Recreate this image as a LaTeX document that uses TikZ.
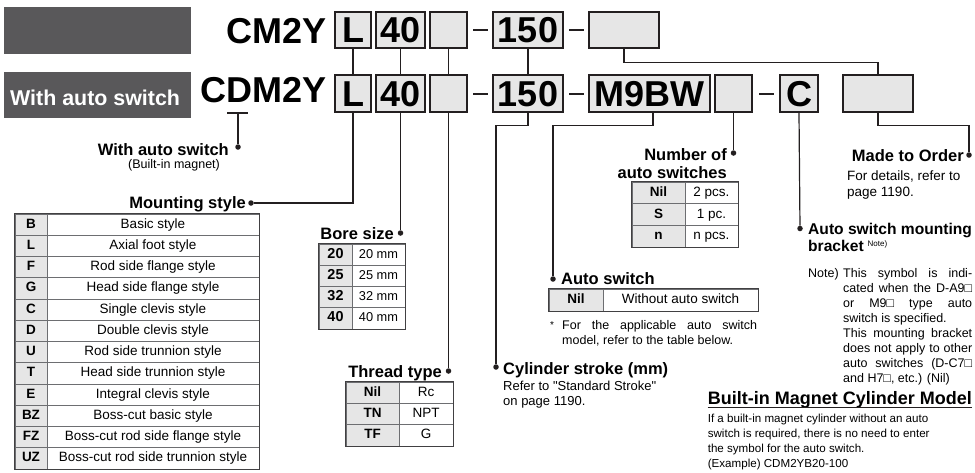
\documentclass[tikz,border=0pt]{standalone}
\usepackage{fontspec}
\setmainfont{Liberation Sans}
\definecolor{linecol}{HTML}{231F20}
\definecolor{bannergray}{HTML}{59585A}
\definecolor{boxgray}{HTML}{E6E6E6}
\definecolor{tabline}{HTML}{6D6E71}
\definecolor{tabouter}{HTML}{414042}
\newcommand\jl[2]{\makebox[#1][s]{#2}}
\begin{document}
\begin{tikzpicture}[x=1pt,y=-1pt,
  conn/.style={draw=linecol, line width=1.2pt},
  dashbar/.style={draw=linecol, line width=2.8pt},
  dotc/.style={circle, fill=linecol, inner sep=0pt, minimum size=5.5pt},
  banner/.style={fill=bannergray, draw=none},
  codebox/.style={draw=linecol, fill=boxgray, line width=1.2pt, inner sep=0pt,
     text height=25.8pt, text depth=0pt, font=\fontsize{36}{36}\selectfont\bfseries},
  bigcode/.style={inner sep=0pt, font=\fontsize{36}{36}\selectfont\bfseries},
  lbl/.style={inner sep=0pt, font=\fontsize{16.5}{18}\selectfont\bfseries},
  txt/.style={inner sep=0pt, font=\fontsize{13}{15.5}\selectfont},
  small/.style={inner sep=0pt, font=\fontsize{12.5}{15}\selectfont},
  kcell/.style={draw=tabline, fill=boxgray, line width=0.6pt, inner sep=0pt,
     text height=10pt, text depth=3pt, font=\fontsize{13.5}{14}\selectfont\bfseries},
  vcell/.style={draw=tabline, fill=white, line width=0.6pt, inner sep=0pt,
     text height=10pt, text depth=3pt, font=\fontsize{13.5}{14}\selectfont},
  outer/.style={draw=tabouter, line width=1pt}
]
\useasboundingbox (0,0) rectangle (975,472);

% banners
\fill[banner] (4,7) rectangle (191,54);
\fill[banner] (4,72) rectangle (191,118);
\node[inner sep=0pt, anchor=base west, text=white, font=\fontsize{21.4}{22}\selectfont\bfseries] (bantxt) at (10,105) {With auto switch};

% model codes
\node[bigcode, anchor=base east] (cm) at (327,43) {CM2Y};
\node[bigcode, anchor=base east] (cdm) at (327,102) {CDM2Y};

% top row boxes
\node[codebox, minimum width=36, minimum height=36] (tL) at (353,30) {L};
\node[codebox, minimum width=49, minimum height=36] (t40) at (400.5,30) {40};
\node[codebox, minimum width=37, minimum height=36] (tE) at (448.5,30) {};
\node[codebox, minimum width=70, minimum height=36] (t150) at (528,30) {150};
\node[codebox, minimum width=70, minimum height=36] (tS) at (624,30) {};
\draw[dashbar] (473,30) -- (488,30);
\draw[dashbar] (569,30) -- (584,30);

% bottom row boxes
\node[codebox, minimum width=36, minimum height=37] (bL) at (353,93.5) {L};
\node[codebox, minimum width=49, minimum height=37] (b40) at (400.5,93.5) {40};
\node[codebox, minimum width=37, minimum height=37] (bE) at (448.5,93.5) {};
\node[codebox, minimum width=70, minimum height=37] (b150) at (528,93.5) {150};
\node[codebox, minimum width=121, minimum height=37] (bM) at (649.5,93.5) {M9BW};
\node[codebox, minimum width=37, minimum height=37] (bN) at (733.5,93.5) {};
\node[codebox, minimum width=38, minimum height=37] (bC) at (799,93.5) {C};
\node[codebox, minimum width=70, minimum height=37] (bO) at (878,93.5) {};
\draw[dashbar] (473,94) -- (488,94);
\draw[dashbar] (569,94) -- (584,94);
\draw[dashbar] (759,94) -- (774,94);

% links between rows
\draw[conn] (tL.south) -- (bL.north);
\draw[conn] (t40.south) -- (b40.north);
\draw[conn] (tE.south) -- (bE.north);
\draw[conn] (t150.south) -- (b150.north);
\draw[conn] (tS.south) -- ++(0,14) -| (bO.north);

% With auto switch (D)
\coordinate (dUl) at (227,113);
\coordinate (dUr) at (248,113);
\coordinate (dU) at (238,113);
\draw[conn] (dUl) -- (dUr);
\node[dotc] (dWas) at (238,147) {};
\draw[conn] (dU) -- (dWas);
\node[lbl, anchor=base east] (was) at (229,155) {With auto switch};
\node[small, anchor=base west] (bim) at (128,168) {(Built-in magnet)};

% Mounting style
\node[dotc] (dMount) at (251,203) {};
\draw[conn] (bL.south) |- (dMount);
\node[lbl, anchor=base east] (mst) at (246,208) {Mounting style};
\foreach \k/\v [count=\i] in {B/Basic style, L/Axial foot style, F/Rod side flange style,
  G/Head side flange style, C/Single clevis style, D/Double clevis style,
  U/Rod side trunnion style, T/Head side trunnion style, E/Integral clevis style,
  BZ/Boss-cut basic style, FZ/Boss-cut rod side flange style, UZ/Boss-cut rod side trunnion style}{
  \node[kcell, minimum width=32, minimum height=21.25] (mk\i) at (31,203.375+21.25*\i) {\k};
  \node[vcell, minimum width=212, minimum height=21.25] (mv\i) at (153,203.375+21.25*\i) {\v};
}
\draw[outer] (mk1.north west) rectangle (mv12.south east);

% Bore size
\node[dotc] (dBore) at (400.5,233) {};
\draw[conn] (b40.south) -- (dBore);
\node[lbl, anchor=base east] (bst) at (394,239) {Bore size};
\foreach \k [count=\i] in {20,25,32,40}{
  \node[kcell, minimum width=33, minimum height=21.25, font=\fontsize{14.4}{15}\selectfont\bfseries] (bk\i) at (335.5,233.375+21.25*\i) {\k};
  \node[vcell, minimum width=53, minimum height=21.25, font=\fontsize{12.8}{14}\selectfont] (bv\i) at (378.5,233.375+21.25*\i) {\k\ mm};
}
\draw[outer] (bk1.north west) rectangle (bv4.south east);

% Thread type
\node[dotc] (dThr) at (448.5,371) {};
\draw[conn] (bE.south) -- (dThr);
\node[lbl, anchor=base east] (tht) at (442,377) {Thread type};
\foreach \k/\v [count=\i] in {Nil/Rc, TN/NPT, TF/G}{
  \node[kcell, minimum width=53, minimum height=21.33] (tk\i) at (372.5,371.33+21.33*\i) {\k};
  \node[vcell, minimum width=54, minimum height=21.33] (tv\i) at (426,371.33+21.33*\i) {\v};
}
\draw[outer] (tk1.north west) rectangle (tv3.south east);

% Cylinder stroke
\node[dotc] (dStr) at (496,367) {};
\draw[conn] (b150.south) -- ++(0,13) -| (dStr);
\node[lbl, anchor=base west] (cst) at (503,374) {Cylinder stroke (mm)};
\node[txt, anchor=base west] (cs1) at (503,390.5) {\addfontfeatures{Ligatures=TeXOff}Refer to "Standard Stroke"};
\node[txt, anchor=base west] (cs2) at (503,405) {on page 1190.};

% Auto switch
\node[dotc] (dAuto) at (553,279) {};
\draw[conn] ([xshift=3.5pt]bM.south) -- ++(0,13) -| (dAuto);
\node[lbl, anchor=base west] (ast) at (561,284) {Auto switch};
\node[kcell, minimum width=54, minimum height=22] (ak1) at (576,300) {Nil};
\node[vcell, minimum width=155, minimum height=22] (av1) at (680.5,300) {Without auto switch};
\draw[outer] (ak1.north west) rectangle (av1.south east);
\node[inner sep=0pt, anchor=base west, font=\fontsize{10}{10}\selectfont] (ast1) at (550,328) {*};
\node[small, anchor=base west] (an1) at (562,329) {\parbox[t]{195pt}{\jl{195pt}{For the applicable auto switch}\\model, refer to the table below.}};

% Number of auto switches
\node[dotc] (dNum) at (733.5,153) {};
\draw[conn] (bN.south) -- (dNum);
\node[lbl, anchor=base east] (nst1) at (727,160) {Number of};
\node[lbl, anchor=base east] (nst2) at (727,178) {auto switches};
\foreach \k/\v [count=\i] in {Nil/2 pcs., S/1 pc., n/n pcs.}{
  \node[kcell, minimum width=53, minimum height=21.67] (nk\i) at (658.5,171.17+21.67*\i) {\k};
  \node[vcell, minimum width=53, minimum height=21.67] (nv\i) at (711.5,171.17+21.67*\i) {\v};
}
\draw[outer] (nk1.north west) rectangle (nv3.south east);

% Made to Order
\node[dotc] (dMto) at (969,155) {};
\draw[conn] (bO.south) -- ++(0,13) -| (dMto);
\node[lbl, anchor=base east] (mto) at (964,161.5) {Made to Order};
\node[txt, anchor=base west, font=\fontsize{13.5}{16}\selectfont] (mt1) at (847,180) {For details, refer to};
\node[txt, anchor=base west, font=\fontsize{13.5}{16}\selectfont] (mt2) at (847,196.5) {page 1190.};

% Auto switch mounting bracket
\node[dotc] (dBr) at (800,228.5) {};
\draw[conn] (bC.south) -- (dBr);
\node[lbl, anchor=base west, font=\fontsize{15.6}{18}\selectfont\bfseries] (brt1) at (808,234) {Auto switch mounting};
\node[lbl, anchor=base west, font=\fontsize{15.6}{18}\selectfont\bfseries] (brt2) at (808,251.5) {bracket\hspace{4pt}\raisebox{5pt}{\fontsize{8}{8}\selectfont\mdseries Note)}};
\node[small, anchor=base west] (nt0) at (808,277.5) {Note)};
\node[small, anchor=base west] (nt1) at (843,277.5) {\parbox[t]{129pt}{\jl{129pt}{This symbol is indi-}\\
  \jl{129pt}{cated when the D-A9□}\\
  \jl{129pt}{or M9□ type auto}\\
  switch is specified.\\
  \jl{129pt}{This mounting bracket}\\
  \jl{129pt}{does not apply to other}\\
  \jl{129pt}{auto switches (D-C7□}\\
  and H7□, etc.) (Nil)}};

% Built-in Magnet Cylinder Model
\node[inner sep=0pt, anchor=base east, font=\fontsize{18}{18}\selectfont\bfseries] (bmh) at (972,404) {Built-in Magnet Cylinder Model};
\draw[line width=1.2pt, draw=linecol] ([yshift=-3.5pt]bmh.base west) -- ([yshift=-3.5pt]bmh.base east);
\node[inner sep=0pt, anchor=base west, font=\fontsize{11.6}{15}\selectfont] (bmp) at (bmh.base west |- 0,422) {\parbox[t]{265pt}{If a built-in magnet cylinder without an auto\\
  switch is required, there is no need to enter\\
  the symbol for the auto switch.\\
  (Example) CDM2YB20-100}};
\end{tikzpicture}
\end{document}
